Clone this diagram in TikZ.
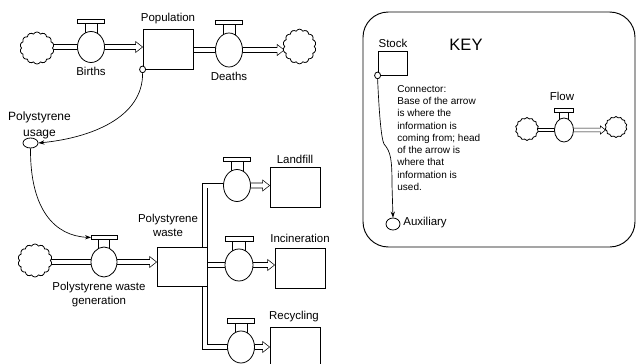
\documentclass[tikz,border=0pt]{standalone}
\usepackage{fontspec}
\setmainfont{Liberation Sans}
\usetikzlibrary{shapes.geometric,shapes.symbols,calc,arrows.meta,backgrounds}
\newcommand\valve[5]{%
  \pgfmathsetmacro\vtop{#3-#5/2}%
  \pgfmathsetmacro\vrx{#4/2}%
  \pgfmathsetmacro\vbb{\vtop-0.5*#5/2}%
  \pgfmathsetmacro\vbt{\vbb-0.27*#5/2}%
  \draw[fill=white] ({#2-0.45*\vrx},{\vbb}) rectangle ({#2+0.45*\vrx},{#3});
  \draw[fill=white] ({#2-\vrx},{\vbt}) rectangle ({#2+\vrx},{\vbb});
  \coordinate (#1-bar) at ({#2-\vrx},{(\vbb+\vbt)/2});
  \node[valvebody, minimum width={#4*0.75pt}, minimum height={#5*0.75pt}] (#1) at (#2,#3) {};
}
% flow arrow: from node #1 (center) to node #2 (west), half width #3, head half #4, head length #5
\newcommand\flowarrow[5]{%
  \coordinate (fa-tip) at (#1.center -| #2.west);
  \draw[fill=white] ($(#1.center)+(0,#3)$) -- ($(fa-tip)+(-#5,#3)$) -- ($(fa-tip)+(-#5,#4)$)
    -- (fa-tip) -- ($(fa-tip)+(-#5,-#4)$) -- ($(fa-tip)+(-#5,-#3)$) -- ($(#1.center)+(0,-#3)$);
}
\begin{document}
\begin{tikzpicture}[x=0.75pt,y=-0.75pt, line width=0.6pt,
  lbl/.style={font=\fontsize{8.6}{10.5}\selectfont, inner sep=0pt, align=center},
  stockbox/.style={draw, fill=white, inner sep=0pt},
  valvebody/.style={draw, fill=white, ellipse, inner sep=0pt},
  cloudy/.style={draw, fill=white, cloud, cloud puffs=14, cloud puff arc=125, aspect=1, inner sep=0pt},
  auxnode/.style={draw, fill=white, ellipse, inner sep=0pt},
  pipe/.style={double distance=3pt, line width=0.5pt},
  thinpipe/.style={double distance=2pt, line width=0.5pt},
  conn/.style={line width=0.5pt, -{Stealth[length=4.5pt,width=3.2pt]}},
]
\useasboundingbox (0,0) rectangle (636,364);

% ---------- stocks ----------
\node[stockbox, minimum width=37.5pt, minimum height=30pt] (pop) at (168,49) {};
\node[stockbox, minimum width=37.5pt, minimum height=29.25pt] (pw) at (182,266.5) {};
\node[stockbox, minimum width=37.5pt, minimum height=30pt] (lf) at (295,187) {};
\node[stockbox, minimum width=37.5pt, minimum height=30pt] (inc) at (300,268) {};
\node[stockbox, minimum width=37.5pt, minimum height=30pt] (rec) at (295,347) {};

% ---------- clouds ----------
\node[cloudy, minimum width=25.5pt, minimum height=24pt] (c1) at (37,48) {};
\node[cloudy, minimum width=24.75pt, minimum height=26pt] (c2) at (299.5,46.5) {};
\node[cloudy, minimum width=25.5pt, minimum height=24.75pt] (c3) at (35,260.5) {};

% ---------- valves ----------
\valve{b1}{91}{47}{27}{31}
\valve{d1}{229}{50}{27}{34}
\valve{g1}{104}{262}{26}{30}
\valve{v1}{237}{185.5}{27}{32}
\valve{v2}{239}{265}{28}{32}
\valve{v3}{241}{347}{27}{32}

% ---------- pipes (behind) ----------
\begin{scope}[on background layer]
  \draw[pipe] (c1.center |- b1.center) -- (b1.center);
  \flowarrow{b1}{pop}{2.5}{5.5}{7}
  \draw[pipe] (pop.center |- d1.center) -- (d1.center);
  \flowarrow{d1}{c2}{2.5}{5.5}{7}
  \draw[pipe] (c3.center |- g1.center) -- (g1.center);
  \flowarrow{g1}{pw}{2.5}{5.5}{7}
  \draw[pipe] ($(pw.north east)+(-2.5,0)$) |- (v1.center);
  \flowarrow{v1}{lf}{2.5}{5.5}{7}
  \draw[pipe] (pw.center |- v2.center) -- (v2.center);
  \flowarrow{v2}{inc}{2.5}{5.5}{7}
  \draw[pipe] ($(pw.south east)+(-2.5,0)$) |- (v3.center);
  \flowarrow{v3}{rec}{2.5}{5.5}{7}
\end{scope}

% ---------- auxiliary and connectors ----------
\node[auxnode, minimum width=11.25pt, minimum height=7.5pt] (us) at (30.5,143) {};
\node[auxnode, minimum width=4.5pt, minimum height=5pt] (pd) at (pop.south west) {};
\draw[conn] (pd.south) .. controls (143,118) and (90,138) .. (us.east);
\draw[conn] (us.south) .. controls (30,210) and (55,236) .. (g1-bar);

% ---------- labels ----------
\node[lbl] at (168,19) {Population};
\node[lbl] at (91,71) {Births};
\node[lbl] at (229,76) {Deaths};
\node[lbl, font=\fontsize{9}{12}\selectfont] at (39.5,125) {Polystyrene\\usage};
\node[lbl] at (99,294.5) {Polystyrene waste\\generation};
\node[lbl] at (168,225) {Polystyrene\\waste};
\node[lbl] at (295,159) {Landfill};
\node[lbl] at (300,238) {Incineration};
\node[lbl] at (294,317) {Recycling};

% ---------- KEY ----------
\draw[line width=0.7pt, rounded corners=19pt] (363,12) rectangle (635,247);
\node[font=\fontsize{12.4}{14}\selectfont, inner sep=0pt] at (466,45) {KEY};
\node[lbl] at (393,43) {Stock};
\node[stockbox, minimum width=21.75pt, minimum height=18pt] (ks) at (392.5,63) {};
\node[auxnode, minimum width=4.5pt, minimum height=5pt] (ksd) at (ks.south west) {};
\node[auxnode, minimum width=10.5pt, minimum height=9pt] (ka) at (393,224) {};
\draw[conn] (ksd.south) .. controls (379,110) and (381,138) .. (384,144)
  .. controls (391,152) and (392,160) .. (392,185) -- (ka.north);
\node[lbl, anchor=west] at (403,223) {Auxiliary};
\node[font=\fontsize{7.5}{9.2}\selectfont, inner sep=0pt, align=left, anchor=north west] at (397,85)
  {Connector:\\Base of the arrow\\is where the\\information is\\coming from; head\\of the arrow is\\where that\\information is\\used.};
\node[lbl] at (562,96) {Flow};
\node[cloudy, minimum width=17.25pt, minimum height=17.25pt] (kc1) at (527,129) {};
\node[cloudy, minimum width=16.5pt, minimum height=15.75pt] (kc2) at (616,127) {};
\valve{kv}{564}{130}{19}{24}
\begin{scope}[on background layer]
  \draw[thinpipe] (kc1.center |- kv.center) -- (kv.center);
  \flowarrow{kv}{kc2}{1.8}{4}{5}
\end{scope}
\end{tikzpicture}
\end{document}
